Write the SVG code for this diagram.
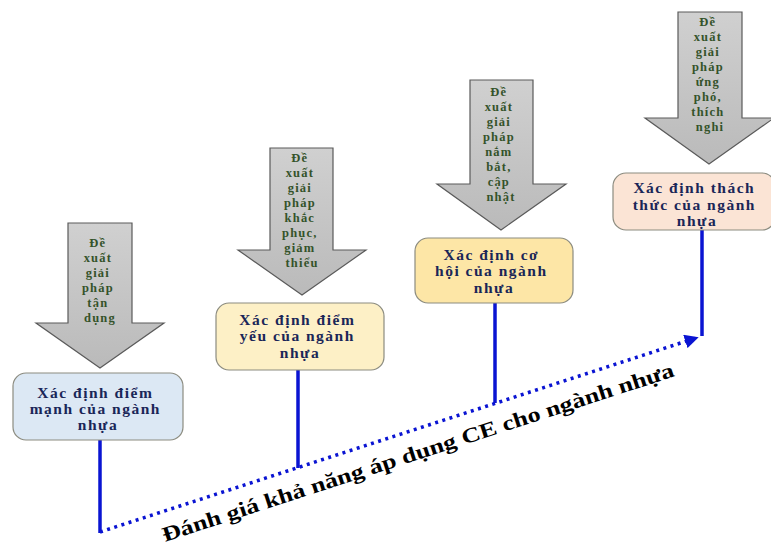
<svg xmlns="http://www.w3.org/2000/svg" width="771" height="549" viewBox="0 0 771 549">
  <defs>
    <linearGradient id="arrowFill" x1="0" y1="0" x2="0" y2="1">
      <stop offset="0" stop-color="#d0d0d0"/>
      <stop offset="1" stop-color="#bababa"/>
    </linearGradient>
    <marker id="tip" viewBox="0 0 10 10" refX="8" refY="5" markerWidth="4" markerHeight="4" orient="auto" markerUnits="strokeWidth">
      <path d="M0,0 L10,5 L0,10 Z" fill="#0a14d2"/>
    </marker>
    <style>
      .arrow { fill: url(#arrowFill); stroke: #5a5a5a; stroke-width: 1.2; stroke-linejoin: miter; }
      .atext { font-family: "Liberation Serif", "Times New Roman", serif; font-weight: bold; font-size: 12.5px; letter-spacing: 1.2px; fill: #34532a; text-anchor: middle; }
      .box { stroke: #8c8c80; stroke-width: 1.2; }
      .btext { font-family: "Liberation Serif", "Times New Roman", serif; font-weight: bold; font-size: 15.5px; letter-spacing: 1.5px; fill: #1a2658; text-anchor: middle; }
      .stem { stroke: #0a14d2; stroke-width: 3.5; fill: none; }
      .dots { stroke: #0a14d2; stroke-width: 3.5; stroke-dasharray: 3 4.5; fill: none; }
      .label { font-family: "Liberation Serif", "Times New Roman", serif; font-weight: bold; font-size: 21px; fill: #000; text-anchor: middle; }
    </style>
  </defs>
  <rect width="771" height="549" fill="#ffffff"/>

  <!-- connectors: vertical stems and the dotted trend line -->
  <g id="connectors">
    <line class="stem" x1="100" y1="440" x2="100" y2="533"/>
    <line class="stem" x1="298" y1="370" x2="298" y2="468"/>
    <line class="stem" x1="495" y1="303" x2="495" y2="403"/>
    <line class="stem" x1="702" y1="230" x2="702" y2="336"/>
    <line class="dots" x1="100" y1="532" x2="696" y2="338" marker-end="url(#tip)"/>
  </g>

  <!-- strengths -->
  <g id="strength">
    <polygon class="arrow" points="68,223 132,223 132,323 164,323 100,368 36,323 68,323"/>
    <text class="atext">
      <tspan x="100" y="247">Đề</tspan>
      <tspan x="100" y="262">xuất</tspan>
      <tspan x="100" y="277">giải</tspan>
      <tspan x="100" y="292">pháp</tspan>
      <tspan x="100" y="307">tận</tspan>
      <tspan x="100" y="322">dụng</tspan>
    </text>
    <rect class="box" x="13" y="373" width="170" height="67" rx="13" fill="#dce8f4"/>
    <text class="btext">
      <tspan x="98" y="398">Xác định điểm</tspan>
      <tspan x="98" y="414">mạnh của ngành</tspan>
      <tspan x="98" y="430">nhựa</tspan>
    </text>
  </g>

  <!-- weaknesses -->
  <g id="weakness">
    <polygon class="arrow" points="270,148 333,148 333,250 366,250 302,295 238,250 270,250"/>
    <text class="atext">
      <tspan x="302" y="162">Đề</tspan>
      <tspan x="302" y="177">xuất</tspan>
      <tspan x="302" y="192">giải</tspan>
      <tspan x="302" y="207">pháp</tspan>
      <tspan x="302" y="222">khắc</tspan>
      <tspan x="302" y="237">phục,</tspan>
      <tspan x="302" y="252">giảm</tspan>
      <tspan x="302" y="267">thiểu</tspan>
    </text>
    <rect class="box" x="216" y="303" width="168" height="67" rx="13" fill="#fdf0c6"/>
    <text class="btext">
      <tspan x="300" y="325">Xác định điểm</tspan>
      <tspan x="300" y="341">yếu của ngành</tspan>
      <tspan x="300" y="358">nhựa</tspan>
    </text>
  </g>

  <!-- opportunities -->
  <g id="opportunity">
    <polygon class="arrow" points="470,80 533,80 533,184 566,184 501,230 437,184 470,184"/>
    <text class="atext">
      <tspan x="501" y="96">Đề</tspan>
      <tspan x="501" y="111">xuất</tspan>
      <tspan x="501" y="126">giải</tspan>
      <tspan x="501" y="141">pháp</tspan>
      <tspan x="501" y="156">nắm</tspan>
      <tspan x="501" y="171">bắt,</tspan>
      <tspan x="501" y="186">cập</tspan>
      <tspan x="501" y="201">nhật</tspan>
    </text>
    <rect class="box" x="415" y="238" width="158" height="65" rx="13" fill="#fde6a6"/>
    <text class="btext">
      <tspan x="494" y="260">Xác định cơ</tspan>
      <tspan x="494" y="276">hội của ngành</tspan>
      <tspan x="494" y="293">nhựa</tspan>
    </text>
  </g>

  <!-- threats -->
  <g id="threat">
    <polygon class="arrow" points="678,12 742,12 742,118 774,118 709,164 645,118 678,118"/>
    <text class="atext">
      <tspan x="710" y="26">Đề</tspan>
      <tspan x="710" y="41">xuất</tspan>
      <tspan x="710" y="56">giải</tspan>
      <tspan x="710" y="71">pháp</tspan>
      <tspan x="710" y="86">ứng</tspan>
      <tspan x="710" y="101">phó,</tspan>
      <tspan x="710" y="116">thích</tspan>
      <tspan x="710" y="131">nghi</tspan>
    </text>
    <rect class="box" x="613" y="173" width="162" height="57" rx="13" fill="#fbe4d5"/>
    <text class="btext">
      <tspan x="697" y="193">Xác định thách</tspan>
      <tspan x="697" y="210">thức của ngành</tspan>
      <tspan x="697" y="226">nhựa</tspan>
    </text>
  </g>

  <!-- axis caption -->
  <g id="caption">
    <text class="label" transform="translate(420,459) rotate(-18)" x="0" y="0" textLength="537" lengthAdjust="spacingAndGlyphs">Đánh giá khả năng áp dụng CE cho ngành nhựa</text>
  </g>
</svg>
